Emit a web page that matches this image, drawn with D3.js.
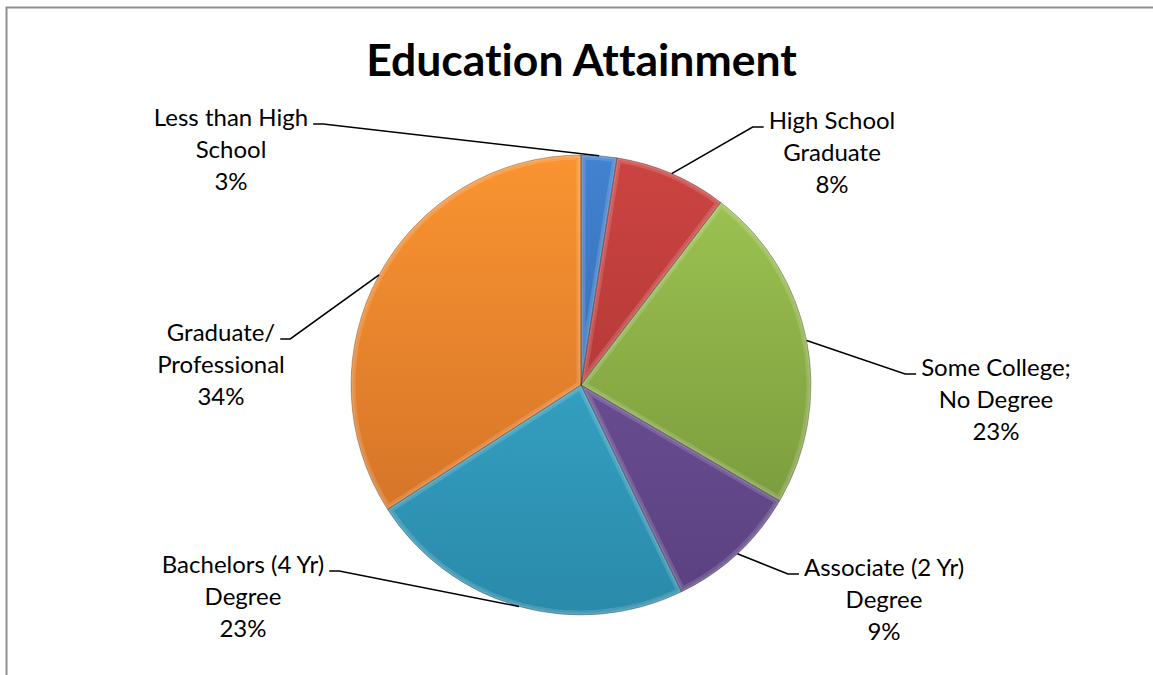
<!DOCTYPE html>
<html>
<head>
<meta charset="utf-8">
<script src="https://cdn.jsdelivr.net/npm/d3@7"></script>
<style>
  html, body { margin: 0; padding: 0; background: #fff; }
  svg { display: block; }
  text { font-variant-ligatures: none; font-feature-settings: "liga" 0; }
</style>
</head>
<body>
<svg id="chart" width="1153" height="675"></svg>
<script>
// ---- data ----
const chartTitle = "Education Attainment";
const categories = [
  "Less than High School",
  "High School Graduate",
  "Some College; No Degree",
  "Associate (2 Yr) Degree",
  "Bachelors (4 Yr) Degree",
  "Graduate/ Professional"
];
const labelLines = [
  ["Less than High", "School"],
  ["High School", "Graduate"],
  ["Some College;", "No Degree"],
  ["Associate (2 Yr)", "Degree"],
  ["Bachelors (4 Yr)", "Degree"],
  ["Graduate/", "Professional"]
];
const values = [2.5, 7.9, 23.0, 9.4, 23.1, 34.1];
const percentLabels = ["3%", "8%", "23%", "9%", "23%", "34%"];

// ---- styles / layout ----
const lightColors = ["#4282d0", "#cc4442", "#a0c754", "#7658a2", "#3eb3d6", "#fa9431"];
const darkColors  = ["#2e60a2", "#a0302e", "#708f36", "#5a4080", "#2a8aaa", "#cb6c26"];
const labelLayout = [
  { cx: 231, y: 126, side: "left" },
  { cx: 832, y: 129, side: "right" },
  { cx: 996, y: 376, side: "right" },
  { cx: 884, y: 576, side: "right" },
  { cx: 243, y: 573, side: "left" },
  { cx: 221, y: 341, side: "left" }
];
const lineGap = 32;

const W = 1153, H = 675;
const cx = 581, cy = 385, R = 230;
const svg = d3.select("#chart");

svg.append("rect")
  .attr("x", 6.5).attr("y", 7.5)
  .attr("width", W + 20).attr("height", H + 20)
  .attr("fill", "#fff")
  .attr("stroke", "#8f8f8f").attr("stroke-width", 2);

svg.append("text")
  .attr("x", 581.5).attr("y", 76)
  .attr("text-anchor", "middle")
  .attr("font-family", "Lato, 'Open Sans', sans-serif")
  .attr("font-weight", "bold")
  .attr("font-size", 44.5)
  .attr("fill", "#000")
  .text(chartTitle);

const pie = d3.pie().sort(null).value(d => d)
  .startAngle(0).endAngle(2 * Math.PI);
const arcs = pie(values);
const arc = d3.arc().innerRadius(0).outerRadius(R);

const defs = svg.append("defs");
arcs.forEach((a, i) => {
  const g = defs.append("linearGradient")
    .attr("id", "grad" + i)
    .attr("gradientUnits", "userSpaceOnUse")
    .attr("x1", 0).attr("y1", -R).attr("x2", 0).attr("y2", R);
  g.append("stop").attr("offset", "0%").attr("stop-color", lightColors[i]);
  g.append("stop").attr("offset", "100%").attr("stop-color", darkColors[i]);
  defs.append("clipPath").attr("id", "clip" + i)
    .append("path").attr("d", arc(a));
});

const gPie = svg.append("g").attr("transform", `translate(${cx},${cy})`);
gPie.selectAll("path.slice")
  .data(arcs).enter().append("path")
  .attr("class", "slice")
  .attr("d", arc)
  .attr("fill", (d, i) => `url(#grad${i})`);

arcs.forEach((a, i) => {
  const gg = gPie.append("g").attr("clip-path", `url(#clip${i})`);
  gg.append("path")
    .attr("d", arc(a))
    .attr("fill", "none")
    .attr("stroke", "#ffffff").attr("stroke-opacity", 0.14)
    .attr("stroke-width", 9).attr("stroke-linejoin", "round");
  gg.append("path")
    .attr("d", arc(a))
    .attr("fill", "none")
    .attr("stroke", "#ffffff").attr("stroke-opacity", 0.12)
    .attr("stroke-width", 4).attr("stroke-linejoin", "round");
});
gPie.selectAll("path.edge")
  .data(arcs).enter().append("path")
  .attr("class", "edge")
  .attr("d", arc)
  .attr("fill", "none")
  .attr("stroke", "rgba(0,0,0,0.3)")
  .attr("stroke-width", 0.8);

const gLab = svg.append("g")
  .attr("font-family", "Lato, 'Open Sans', sans-serif")
  .attr("font-size", 24)
  .attr("fill", "#000");

arcs.forEach((a, i) => {
  const L = labelLayout[i];
  const t = gLab.append("text").attr("text-anchor", "middle");
  const lines = labelLines[i].concat([percentLabels[i]]);
  const tspans = lines.map((ln, k) =>
    t.append("tspan").attr("x", L.cx).attr("y", L.y + k * lineGap).text(ln));
  const w = tspans[0].node().getComputedTextLength();
  const mid = (a.startAngle + a.endAngle) / 2;
  const px = cx + R * Math.sin(mid), py = cy - R * Math.cos(mid);
  let ex, hx;
  if (L.side === "left") { ex = L.cx + w / 2 + 5; hx = ex + 10; }
  else { ex = L.cx - w / 2 - 5; hx = ex - 11; }
  const ly = L.y - 2;
  svg.append("path")
    .attr("d", `M${ex},${ly}L${hx},${ly}L${px},${py}`)
    .attr("fill", "none")
    .attr("stroke", "#000").attr("stroke-width", 1.6);
});
</script>
</body>
</html>
